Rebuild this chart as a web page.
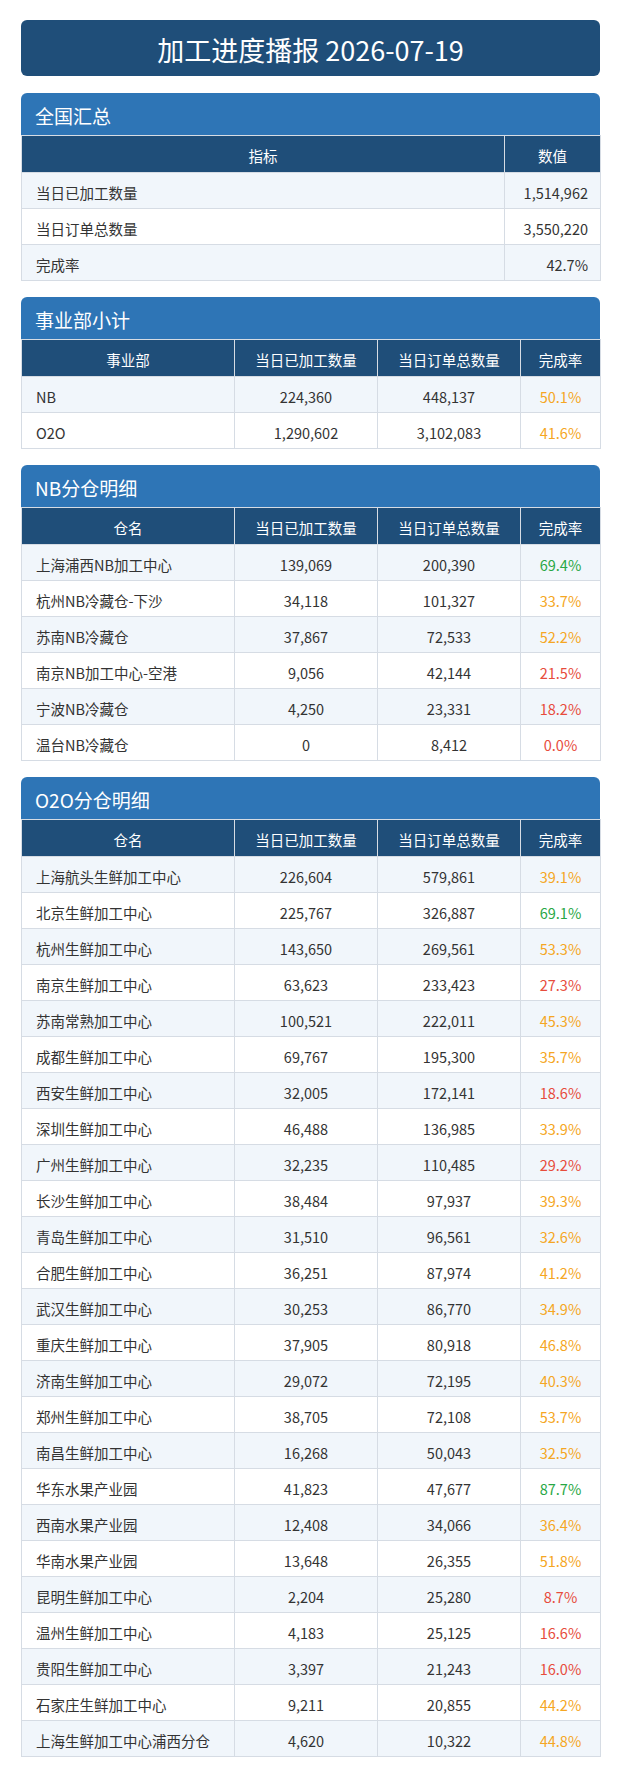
<!DOCTYPE html>
<html><head><meta charset="utf-8">
<script src="https://cdn.jsdelivr.net/npm/chart.js@4"></script>
<style>
body{margin:0;background:#fff;font-family:"Noto Sans CJK SC","Noto Sans",sans-serif;color:#333;}
#wrap{position:absolute;left:21px;top:20px;width:579px;}
.title{background:#1f4e79;color:#fff;height:56px;line-height:60px;text-align:center;font-size:27px;border-radius:6px;margin-bottom:17px;}
.sec{margin-bottom:16px;}
.sh{background:#2e75b6;color:#fff;font-size:19px;height:42px;line-height:46px;padding-left:14px;border-radius:6px 6px 0 0;}
table{border-collapse:collapse;width:100%;table-layout:fixed;font-size:14.5px;}
th{background:#1f4e79;color:#fff;font-weight:normal;height:37px;padding:3px 0 0;border:1px solid #d6dce4;box-sizing:border-box;}
td{height:32px;padding:3px 0 0;border:1px solid #d6dce4;text-align:center;}
td.n{text-align:left;padding-left:14px;}
td.r{text-align:right;padding-right:12px;}
tr:nth-child(even) td{background:#f1f6fb;}
</style></head><body>
<div id="wrap"><div class="title">加工进度播报 2026-07-19</div><div id="out"></div></div>
<script>
const summaryLabels = ['当日已加工数量', '当日订单总数量', '完成率'];
const summaryValues = ['1,514,962', '3,550,220', '42.7%'];
const deptNames = ['NB', 'O2O'];
const deptDone = [224360, 1290602];
const deptOrders = [448137, 3102083];
const deptRates = [50.1, 41.6];
const nbNames = ['上海浦西NB加工中心', '杭州NB冷藏仓-下沙', '苏南NB冷藏仓', '南京NB加工中心-空港', '宁波NB冷藏仓', '温台NB冷藏仓'];
const nbDone = [139069, 34118, 37867, 9056, 4250, 0];
const nbOrders = [200390, 101327, 72533, 42144, 23331, 8412];
const nbRates = [69.4, 33.7, 52.2, 21.5, 18.2, 0.0];
const o2oNames = ['上海航头生鲜加工中心', '北京生鲜加工中心', '杭州生鲜加工中心', '南京生鲜加工中心', '苏南常熟加工中心', '成都生鲜加工中心', '西安生鲜加工中心', '深圳生鲜加工中心', '广州生鲜加工中心', '长沙生鲜加工中心', '青岛生鲜加工中心', '合肥生鲜加工中心', '武汉生鲜加工中心', '重庆生鲜加工中心', '济南生鲜加工中心', '郑州生鲜加工中心', '南昌生鲜加工中心', '华东水果产业园', '西南水果产业园', '华南水果产业园', '昆明生鲜加工中心', '温州生鲜加工中心', '贵阳生鲜加工中心', '石家庄生鲜加工中心', '上海生鲜加工中心浦西分仓'];
const o2oDone = [226604, 225767, 143650, 63623, 100521, 69767, 32005, 46488, 32235, 38484, 31510, 36251, 30253, 37905, 29072, 38705, 16268, 41823, 12408, 13648, 2204, 4183, 3397, 9211, 4620];
const o2oOrders = [579861, 326887, 269561, 233423, 222011, 195300, 172141, 136985, 110485, 97937, 96561, 87974, 86770, 80918, 72195, 72108, 50043, 47677, 34066, 26355, 25280, 25125, 21243, 20855, 10322];
const o2oRates = [39.1, 69.1, 53.3, 27.3, 45.3, 35.7, 18.6, 33.9, 29.2, 39.3, 32.6, 41.2, 34.9, 46.8, 40.3, 53.7, 32.5, 87.7, 36.4, 51.8, 8.7, 16.6, 16.0, 44.2, 44.8];

const fmt = v => v.toLocaleString('en-US');
const rateColor = r => r >= 60 ? '#28a745' : (r >= 30 ? '#f5a623' : '#e74c3c');
const cols = '<colgroup><col style="width:213px"><col style="width:143px"><col style="width:143px"><col style="width:80px"></colgroup>';

function detail(title, head, names, done, orders, rates) {
    let h = `<div class="sec"><div class="sh">${title}</div><table>${cols}<tr><th>${head}</th><th>当日已加工数量</th><th>当日订单总数量</th><th>完成率</th></tr>`;
    names.forEach((n, i) => {
        h += `<tr><td class="n">${n}</td><td>${fmt(done[i])}</td><td>${fmt(orders[i])}</td><td style="color:${rateColor(rates[i])}">${rates[i].toFixed(1)}%</td></tr>`;
    });
    return h + '</table></div>';
}

let html = '<div class="sec"><div class="sh">全国汇总</div><table><colgroup><col style="width:483px"><col style="width:96px"></colgroup><tr><th>指标</th><th>数值</th></tr>';
summaryLabels.forEach((l, i) => { html += `<tr><td class="n">${l}</td><td class="r">${summaryValues[i]}</td></tr>`; });
html += '</table></div>';
html += detail('事业部小计', '事业部', deptNames, deptDone, deptOrders, deptRates);
html += detail('NB分仓明细', '仓名', nbNames, nbDone, nbOrders, nbRates);
html += detail('O2O分仓明细', '仓名', o2oNames, o2oDone, o2oOrders, o2oRates);
document.getElementById('out').innerHTML = html;
</script>
</body></html>
